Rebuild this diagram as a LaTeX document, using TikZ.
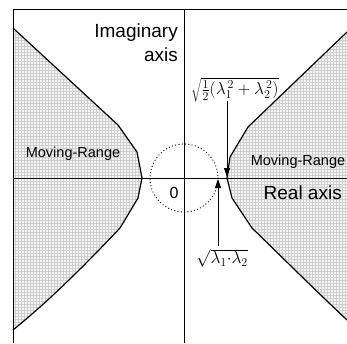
\documentclass[tikz,border=0pt]{standalone}
\usepackage{fontspec}
\setsansfont{Liberation Sans}
\usetikzlibrary{arrows.meta,patterns}
\tikzset{
  region/.style={fill=gray!8, postaction={pattern=grid, pattern color=gray!38}},
  curve/.style={line width=1.2pt, line join=round},
  axis/.style={line width=1pt},
  pointer/.style={line width=0.8pt, -{Triangle[length=9pt,width=6pt]}},
  bigtxt/.style={font=\sffamily\fontsize{19}{21}\selectfont, inner sep=0pt},
  smalltxt/.style={font=\sffamily\fontsize{14.5}{16}\selectfont, inner sep=0pt},
  mathtxt/.style={font=\fontsize{17}{20}\selectfont, inner sep=0pt},
}
\begin{document}
\begin{tikzpicture}[x=1pt,y=-1pt]
\useasboundingbox (0,0) rectangle (347,343);
% shaded regions
\path[region] (13,28) -- (118,125) -- (137,152) -- (142,178) -- (138,198) -- (120,228)
  .. controls (85,265) and (50,300) .. (13,330) -- cycle;
\path[region] (347,32) -- (248,127) -- (230,157) -- (227,178) -- (232,198) -- (252,228)
  .. controls (285,260) and (315,290) .. (347,320) -- cycle;
\draw[curve] (13,28) -- (118,125) -- (137,152) -- (142,178) -- (138,198) -- (120,228)
  .. controls (85,265) and (50,300) .. (13,330);
\draw[curve] (347,32) -- (248,127) -- (230,157) -- (227,178) -- (232,198) -- (252,228)
  .. controls (285,260) and (315,290) .. (347,320);
% frame and axes
\coordinate (tl) at (13,9);
\coordinate (tr) at (347,9);
\coordinate (bl) at (13,343);
\draw[axis] (tr) -- (tl) -- (bl);
\coordinate (xl) at (13,178);
\coordinate (xr) at (347,178);
\coordinate (yt) at (184,9);
\coordinate (yb) at (184,343);
\draw[axis] (xl) -- (xr);
\draw[axis] (yt) -- (yb);
% dotted circle
\coordinate (o) at (184,178);
\draw[line width=1.3pt, line cap=round, dash pattern=on 0pt off 3.3pt] (o) circle[radius=34];
% labels
\node[bigtxt, anchor=east] (im) at (178,33) {Imaginary};
\node[bigtxt, anchor=east] (ax) at (178,55) {axis};
\node[bigtxt, anchor=east] (re) at (342,193) {Real axis};
\node[smalltxt] (mrl) at (73,154) {Moving-Range};
\node[smalltxt] (mrr) at (298,162) {Moving-Range};
\node[font=\sffamily\fontsize{16}{18}\selectfont, inner sep=0pt] (zero) at (174,193) {0};
\node[mathtxt] (top) at (235,90) {$\sqrt{\frac12(\lambda_1^{\,2}+\lambda_2^{\,2})}$};
\node[mathtxt] (bot) at (222,258) {$\sqrt{\lambda_1{\cdot}\lambda_2}$};
% arrows
\coordinate (tipd) at (227,177);
\coordinate (startd) at (227,101);
\coordinate (tipu) at (218,179);
\coordinate (startu) at (218,246);
\draw[pointer] (startd) -- (tipd);
\draw[pointer] (startu) -- (tipu);
\end{tikzpicture}
\end{document}
